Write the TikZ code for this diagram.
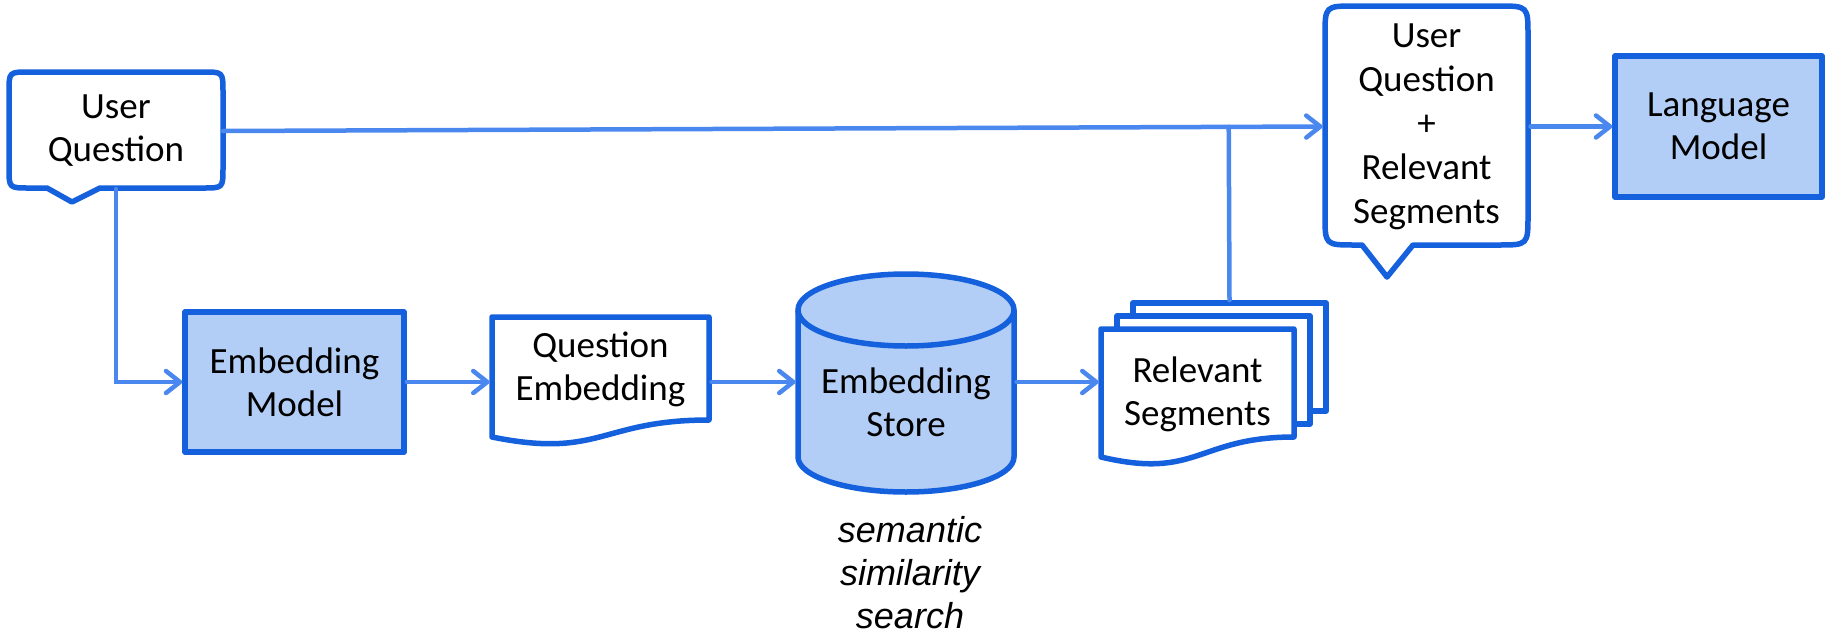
\documentclass[tikz,border=0pt]{standalone}
\usepackage{fontspec}
\setmainfont{Carlito}
\newfontfamily\notefont{Liberation Sans}
\usetikzlibrary{arrows.meta,calc}
\definecolor{edgeblue}{HTML}{1560DC}
\definecolor{fillblue}{HTML}{B3CEF6}
\definecolor{linkblue}{HTML}{4A87EE}
\newcommand\bodyfont{\fontsize{37}{43}\selectfont}
\tikzset{
  outline/.style={draw=edgeblue, line width=5.5pt, line join=round},
  solidbox/.style={outline, fill=fillblue, rectangle, align=center, font=\bodyfont},
  label/.style={align=center, font=\bodyfont, inner sep=0pt, outer sep=0pt},
  link/.style={draw=linkblue, line width=4.5pt, line cap=round},
  flow/.style={link, -{Straight Barb[length=14pt,width=22pt,line cap=round,line join=round]}},
}
\begin{document}
\begin{tikzpicture}[x=1pt,y=-1pt]
\useasboundingbox (0,0) rectangle (1845,635);

% user question speech bubble
\draw[outline, fill=white]
  (29,72) -- (203,72) .. controls (223,72) .. (223,92) -- (223,168)
  .. controls (223,188) .. (203,188) -- (100,188) -- (72,202) -- (47,188)
  -- (29,188) .. controls (9,188) .. (9,168) -- (9,92)
  .. controls (9,72) .. (29,72) -- cycle;
\node[label, minimum width=214pt, minimum height=116pt] (uq) at (116,131) {User\\Question};

% embedding model
\node[solidbox, minimum width=219pt, minimum height=140pt] (em) at (294.5,382) {Embedding\\Model};

% question embedding document
\draw[outline, fill=white]
  (492,317) -- (709,317) -- (709,420)
  .. controls (600.5,420) and (600.5,459) .. (492,437) -- cycle;
\node[label, minimum width=222pt] (qe) at (600.5,369) {Question\\Embedding};

% embedding store cylinder
\path[outline, fill=fillblue]
  (798,310) -- (798,457)
  .. controls (798,476.3) and (846.4,492) .. (906,492)
  .. controls (965.6,492) and (1014,476.3) .. (1014,457)
  -- (1014,310)
  .. controls (1014,290.1) and (965.6,274) .. (906,274)
  .. controls (846.4,274) and (798,290.1) .. (798,310) -- cycle;
\draw[outline]
  (798,310) .. controls (798,329.9) and (846.4,346) .. (906,346)
  .. controls (965.6,346) and (1014,329.9) .. (1014,310);
\node[label, minimum width=221pt] (st) at (906,402) {Embedding\\Store};
\node[align=center, inner sep=0pt, font=\notefont\itshape\fontsize{36}{43}\selectfont] (sem) at (910,573) {semantic\\similarity\\search};

% relevant segments: stack of documents
\node[outline, fill=white, minimum width=193pt, minimum height=108pt] (rs3) at (1229.5,357) {};
\node[outline, fill=white, minimum width=193pt, minimum height=108pt] (rs2) at (1213.5,370) {};
\draw[outline, fill=white]
  (1101,329) -- (1294,329) -- (1294,437)
  .. controls (1197.5,437) and (1197.5,480) .. (1101,457) -- cycle;
\node[label, minimum width=198pt] (rs) at (1197.5,394) {Relevant\\Segments};

% combined prompt speech bubble
\draw[outline, fill=white]
  (1355,6) -- (1498,6) .. controls (1528,6) .. (1528,36) -- (1528,215)
  .. controls (1528,245) .. (1498,245) -- (1413,245) -- (1387,277) -- (1362,245)
  -- (1355,245) .. controls (1325,245) .. (1325,215) -- (1325,36)
  .. controls (1325,6) .. (1355,6) -- cycle;
\node[label, minimum width=208pt, minimum height=241pt, font=\fontsize{37}{44}\selectfont] (comb) at (1426.5,126.5) {User\\Question\\+\\Relevant\\Segments};

% language model
\node[solidbox, minimum width=207pt, minimum height=141pt] (lm) at (1718.5,126.5) {Language\\Model};

% connectors
\draw[flow] (uq.east) -- (comb.west);
\draw[flow] (uq.south) |- (em.west);
\draw[flow] (em.east) -- (em.east -| qe.west);
\draw[flow] (qe.east |- em.east) -- (em.east -| st.west);
\draw[flow] (st.east |- em.east) -- (em.east -| rs.west);
\draw[link] (rs3.north) -- ($(uq.east)!(rs3.north)!(comb.west)$);
\draw[flow] (comb.east) -- (lm.west);
\end{tikzpicture}
\end{document}
